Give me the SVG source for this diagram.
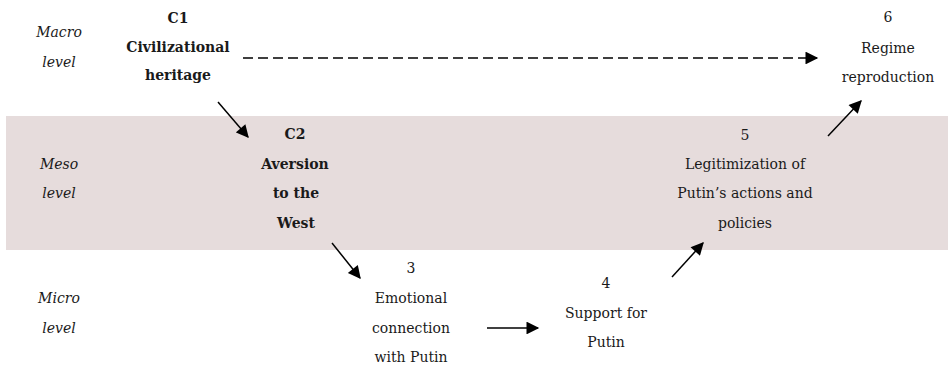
<svg xmlns="http://www.w3.org/2000/svg" width="948" height="367" viewBox="0 0 948 367">
<defs>
<style>
text{font-family:"DejaVu Serif","Liberation Serif",serif;font-size:14px;fill:#1a1a1a;text-anchor:middle}
.lvl{font-style:italic}
.b{font-weight:bold}
.c{stroke:#000;stroke-width:1.5;fill:none}
.d{stroke-dasharray:10 5}
</style>
<marker id="ah" viewBox="0 0 10 10" refX="9" refY="5" markerWidth="9.5" markerHeight="8.5" markerUnits="strokeWidth" orient="auto">
<path d="M0,0 L10,5 L0,10 z" fill="#000"/>
</marker>
</defs>
<rect width="948" height="367" fill="#fff"/>
<rect id="meso-band" x="6" y="116" width="942" height="134" fill="#e6dcdc"/>
<g id="level-macro"><text class="lvl" x="59" y="37">Macro</text><text class="lvl" x="59" y="67">level</text></g>
<g id="level-meso"><text class="lvl" x="59" y="169">Meso</text><text class="lvl" x="59" y="198">level</text></g>
<g id="level-micro"><text class="lvl" x="59" y="303">Micro</text><text class="lvl" x="59" y="333">level</text></g>
<g id="n-c1"><text class="b" x="178" y="23">C1</text><text class="b" x="178" y="52">Civilizational</text><text class="b" x="178" y="80">heritage</text></g>
<g id="n-c2"><text class="b" x="295" y="139">C2</text><text class="b" x="295" y="169">Aversion</text><text class="b" x="296" y="198">to the</text><text class="b" x="296" y="228">West</text></g>
<g id="n-3"><text x="411" y="273">3</text><text x="411" y="303">Emotional</text><text x="411" y="333">connection</text><text x="411" y="362">with Putin</text></g>
<g id="n-4"><text x="606" y="288">4</text><text x="606" y="318">Support for</text><text x="606" y="347">Putin</text></g>
<g id="n-5"><text x="745" y="140">5</text><text x="745" y="169">Legitimization of</text><text x="745" y="198">Putin’s actions and</text><text x="745" y="228">policies</text></g>
<g id="n-6"><text x="888" y="22">6</text><text x="888" y="53">Regime</text><text x="888" y="82">reproduction</text></g>
<g id="connectors">
<line class="c d" x1="243" y1="58" x2="817" y2="58" marker-end="url(#ah)"/>
<line class="c" x1="218" y1="102" x2="248" y2="137" marker-end="url(#ah)"/>
<line class="c" x1="332" y1="243" x2="360" y2="278" marker-end="url(#ah)"/>
<line class="c" x1="487" y1="328" x2="538" y2="328" marker-end="url(#ah)"/>
<line class="c" x1="672" y1="277" x2="703" y2="243" marker-end="url(#ah)"/>
<line class="c" x1="828" y1="136" x2="861" y2="101" marker-end="url(#ah)"/>
</g>
</svg>
